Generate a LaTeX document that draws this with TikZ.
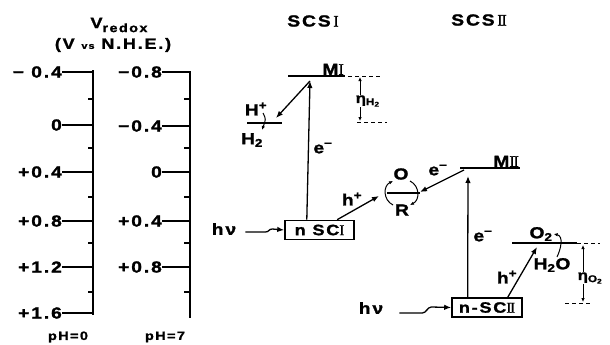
\documentclass[tikz,border=0pt]{standalone}
\usepackage{fontspec}
\newfontfamily\lblfont{Liberation Sans}[FakeStretch=1.2,LetterSpace=12,BoldFeatures={FakeBold=1.5}]
\newfontfamily\romfont{Liberation Serif}[FakeBold=1]
\usetikzlibrary{arrows.meta,positioning,calc}
\newcommand{\RomI}{{\romfont\mdseries I}}
\newcommand{\RomII}{{\romfont\mdseries I\kern-1.2pt I}}

\begin{document}
\begin{tikzpicture}[x=1pt, y=-1pt,
  lbl/.style={font=\lblfont\bfseries\fontsize{16}{18}\selectfont, inner sep=1pt},
  num/.style={font=\lblfont\bfseries\fontsize{16}{18}\selectfont, inner sep=0pt, anchor=east},
  small/.style={font=\lblfont\bfseries\fontsize{12}{14}\selectfont, inner sep=1pt},
  eta/.style={font=\lblfont\bfseries\fontsize{14}{16}\selectfont, inner sep=0.5pt, anchor=west},
  axis/.style={line width=1.6pt},
  tick/.style={line width=1.2pt},
  level/.style={line width=1.8pt},
  guide/.style={line width=0.9pt, dash pattern=on 4pt off 3pt},
  arrow/.style={-{Latex[length=7pt,width=5.5pt]}, line width=1.3pt},
  tip/.style={-{Latex[length=4pt,width=3.5pt]}, line width=1pt},
  cell/.style={draw, line width=1.6pt, inner sep=1pt, minimum height=19pt,
               font=\lblfont\bfseries\fontsize{15}{17}\selectfont}
]
\useasboundingbox (0,0) rectangle (610,345);

\node (vred) at (119,25) {\lblfont\bfseries\fontsize{15}{17}\selectfont V\raisebox{-4pt}{\fontsize{12}{14}\selectfont redox}};
\node (vnhe) at (113,45) {\lblfont\bfseries\fontsize{15}{17}\selectfont (V {\fontsize{9}{10}\selectfont vs} N.H.E.)};

\draw[axis] (93,70) -- (93,315);
\foreach \v/\y [count=\i] in {{− 0.4}/72, 0/125, +0.4/172, +0.8/221, +1.2/267, +1.6/313} {
  \node[num] (pa\i) at (62,\y) {\v};
  \draw[tick] (pa\i.east) -- (93,\y);
}
\foreach \y in {99,148,197,243,292} \draw[tick] (88,\y) -- (93,\y);

\draw[axis] (190,71) -- (190,318);
\foreach \v/\y [count=\i] in {−0.8/72, −0.4/126, 0/172, +0.4/221, +0.8/267} {
  \node[num] (pb\i) at (162,\y) {\v};
  \draw[tick] (pb\i.east) -- (190,\y);
}
\foreach \y in {99,148,197,243,292} \draw[tick] (184,\y) -- (190,\y);

\node[small] (phA) at (68,337) {pH=0};
\node[small] (phB) at (165,337) {pH=7};

\node[lbl] (scsA) at (313,21) {SCS\,\RomI};
\node[lbl] (scsB) at (479,20) {SCS\,\RomII};

\coordinate (mAl) at (288,76);
\coordinate (mAr) at (345,76);
\coordinate (mAdot) at (310,81);
\draw[level] (mAl) -- (mAr);
\node[lbl, anchor=south east] (mA) at (mAr) {M\RomI};
\draw[guide] ([xshift=3pt]mAr) -- (382,76);
\draw[guide] (357,122) -- (387,122);
\node[eta] (etaH) at (355,101) {η\textsubscript{H\textsubscript{2}}};
\draw[tip] (etaH.north -| 360,76) -- (360,77);
\draw[tip] (etaH.south -| 360,122) -- (360,121);

\coordinate (hpl) at (247,123);
\coordinate (hpr) at (282,123);
\draw[level] (hpl) -- (hpr);
\node[lbl] (hplus) at (256,109) {H\textsuperscript{+}};
\node[lbl] (htwo) at (252,140) {H\textsubscript{2}};
\draw[tip] (263,113) .. controls (266,119) .. (262,130);
\draw[arrow] (mAdot) -- (276,118);

\node[cell, minimum width=69pt] (nSCI) at (319.5,230) {n SC\RomI};
\draw[arrow] ($(nSCI.north west)!0.32!(nSCI.north east)$) -- (mAdot);
\node[lbl] (eA) at (323,148) {e\textsuperscript{−}};
\node[lbl] (hnuA) at (224,229) {hν};
\draw[arrow] ($(hnuA.east)+(8,3)$) -- ++(20,0) .. controls +(4,0) and +(-4,0) .. ++(7,-3) -- (nSCI.west);
\draw[arrow] ($(nSCI.north west)!0.75!(nSCI.north east)$) -- (379,196);
\node[lbl] (hpA) at (352,199) {h\textsuperscript{+}};

\node[lbl] (ox) at (401,174) {O};
\node[lbl] (red) at (402,210) {R};
\draw[line width=1.3pt] (387,193) -- (420,193);
\draw[tip] (393,205) .. controls (383,200) and (383,186) .. (393,181);
\draw[tip] (410,181) .. controls (420,186) and (420,200) .. (410,205);

\coordinate (mBl) at (460,168);
\coordinate (mBr) at (520,168);
\coordinate (mBdot) at (468,176);
\draw[level] (mBl) -- (mBr);
\node[lbl, anchor=south east] (mB) at (mBr) {M\RomII};
\draw[arrow] (464,170) -- (420,192);
\node[lbl] (eB) at (438,170) {e\textsuperscript{−}};

\node[cell, minimum width=70pt] (nSCII) at (487,307.5) {n-SC\RomII};
\draw[arrow] ($(nSCII.north west)!0.23!(nSCII.north east)$) -- (mBdot);
\node[lbl] (eC) at (483,236) {e\textsuperscript{−}};
\node[lbl] (hnuB) at (371,308) {hν};
\draw[arrow] ($(hnuB.east)+(15,5)$) -- ++(23,0) .. controls +(4,0) and +(-4,0) .. ++(9,-6) -- (nSCII.west);

\coordinate (o2l) at (512,243);
\coordinate (o2r) at (577,243);
\draw[level] (o2l) -- (o2r);
\draw[guide] (o2r) -- (600,243);
\draw[guide] (565,303) -- (590,303);
\node[lbl] (otwo) at (541,234) {O\textsubscript{2}};
\node[lbl] (water) at (552,265) {H\textsubscript{2}O};
\draw[tip] ($(water.north)+(5,0)$) .. controls +(4,-8) and +(10,2) .. (otwo.east);
\draw[arrow] ($(nSCII.north west)!0.79!(nSCII.north east)$) -- (537,247);
\node[lbl] (hpB) at (507,277) {h\textsuperscript{+}};
\node[eta] (etaO) at (577,278) {η\textsubscript{O\textsubscript{2}}};
\draw[tip] (etaO.north -| 583,245) -- (583,245);
\draw[tip] (etaO.south -| 583,302) -- (583,302);
\end{tikzpicture}
\end{document}
